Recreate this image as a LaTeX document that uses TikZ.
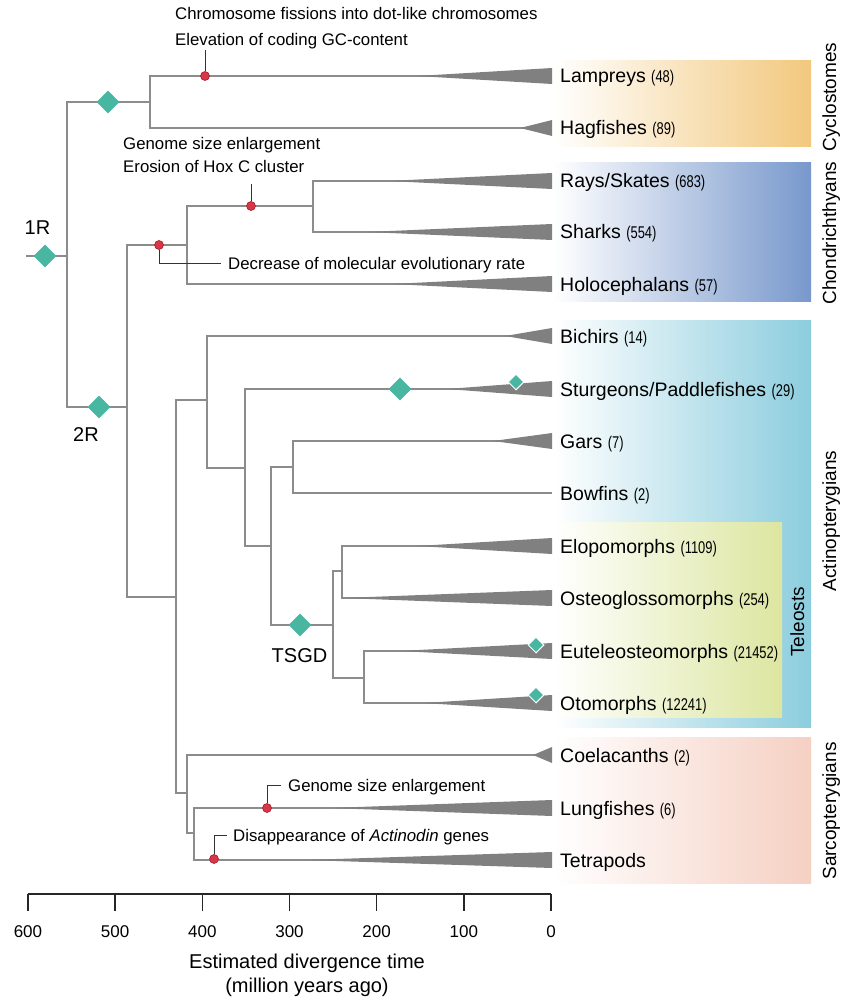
\documentclass[tikz,border=0pt]{standalone}
\usepackage{fontspec}
\usepackage{graphicx}
\setmainfont{Liberation Sans}
\usetikzlibrary{positioning}
\usetikzlibrary{shapes.geometric}

\definecolor{linegray}{RGB}{140,140,140}
\definecolor{cladegray}{RGB}{128,128,128}
\definecolor{wgdgreen}{RGB}{72,182,160}
\definecolor{eventred}{RGB}{215,55,70}
\definecolor{eventdark}{RGB}{165,30,45}
\definecolor{cycorange}{RGB}{242,200,125}
\definecolor{chonblue}{RGB}{120,152,204}
\definecolor{actcyan}{RGB}{140,205,222}
\definecolor{telgreen}{RGB}{220,230,160}
\definecolor{sarpink}{RGB}{245,208,195}
\newcommand{\cnt}[1]{{\fontsize{17}{17}\selectfont\scalebox{0.76}[1]{(#1)}}}

\begin{document}
\begin{tikzpicture}[
    x=1pt, y=-1pt,
    branch/.style={draw=linegray, line width=1.5pt},
    clade/.style={fill=cladegray},
    wgd/.style={diamond, fill=wgdgreen, minimum size=23pt, inner sep=0pt},
    wgdsmall/.style={diamond, fill=wgdgreen, draw=white, line width=1pt, minimum size=16pt, inner sep=0pt},
    event/.style={circle, fill=eventred, draw=eventdark, line width=0.6pt, minimum size=9pt, inner sep=0pt},
    lead/.style={draw=black!80, line width=0.9pt},
    note/.style={font=\fontsize{16.8}{18}\selectfont, inner sep=0pt, text height=15pt, text depth=3pt, anchor=west},
    taxon/.style={font=\fontsize{19.5}{22}\selectfont, inner sep=0pt, text height=17pt, text depth=3pt},
    lbl/.style={font=\fontsize{20}{22}\selectfont, inner sep=0pt, anchor=base},
    group/.style={font=\fontsize{19}{22}\selectfont, rotate=90, anchor=base, inner sep=0pt},
    tick/.style={font=\fontsize{17}{20}\selectfont, inner sep=0pt, anchor=base},
    axis/.style={draw=black!85, line width=1.5pt},
  ]
  \useasboundingbox (0,0) rectangle (859,1000);

  % clade boxes
  \shade[left color=white, right color=cycorange] (553,61) rectangle (811,147);
  \shade[left color=white, right color=chonblue] (553,163) rectangle (811,301);
  \shade[left color=white, right color=actcyan] (553,320) rectangle (811,727);
  \shade[left color=white, right color=telgreen] (553,522) rectangle (782,717);
  \shade[left color=white, right color=sarpink] (553,737) rectangle (811,883);

  \node[group] (gcyc) at (836,97) {Cyclostomes};
  \node[group] (gchon) at (836,233) {Chondrichthyans};
  \node[group] (gact) at (836,521) {Actinopterygians};
  \node[group] (gtel) at (804,622) {Teleosts};
  \node[group] (gsar) at (836,811) {Sarcopterygians};

  % leaves
  \foreach \nm/\y/\a/\txt in {
      lamp/76/417/{Lampreys \cnt{48}},
      hag/128/520/{Hagfishes \cnt{89}},
      ray/181/388/{Rays/Skates \cnt{683}},
      shark/232/367/{Sharks \cnt{554}},
      holo/284/392/{Holocephalans \cnt{57}},
      bich/336/505/{Bichirs \cnt{14}},
      stur/389/447/{Sturgeons/Paddlefishes \cnt{29}},
      gar/441/493/{Gars \cnt{7}},
      bow/493/552/{Bowfins \cnt{2}},
      elo/546/417/{Elopomorphs \cnt{1109}},
      ost/598/343/{Osteoglossomorphs \cnt{254}},
      eut/651/400/{Euteleosteomorphs \cnt{21452}},
      oto/703/423/{Otomorphs \cnt{12241}},
      coel/755/533/{Coelacanths \cnt{2}},
      lung/808/330/{Lungfishes \cnt{6}},
      tet/860/305/{Tetrapods}} {
    \coordinate (\nm) at (552,\y);
    \coordinate (\nm-a) at (\a,\y);
    \node[taxon, right=8pt of \nm] (\nm-t) {\txt};
  }

  % internal nodes
  \coordinate (root) at (26,256);
  \coordinate (n1) at (67,256);
  \coordinate (cyc) at (150,102);
  \coordinate (gna) at (127,407);
  \coordinate (chon) at (187,245);
  \coordinate (ela) at (313,206);
  \coordinate (oste) at (176,597);
  \coordinate (acti) at (207,400);
  \coordinate (actp) at (245,468);
  \coordinate (neop) at (271,546);
  \coordinate (holst) at (293,467);
  \coordinate (tele) at (333,625);
  \coordinate (elop) at (342,571);
  \coordinate (clup) at (364,678);
  \coordinate (sarc) at (187,793);
  \coordinate (rhip) at (194,833);

  \draw[branch] (root) -- (n1);
  \foreach \p/\c in {n1/cyc, n1/gna, cyc/lamp, cyc/hag, gna/chon, gna/oste,
      chon/ela, chon/holo, ela/ray, ela/shark, oste/acti, oste/sarc,
      acti/bich, acti/actp, actp/stur, actp/neop, neop/holst, neop/tele,
      holst/gar, holst/bow, tele/elop, tele/clup, elop/elo, elop/ost,
      clup/eut, clup/oto, sarc/coel, sarc/rhip, rhip/lung, rhip/tet}
    \draw[branch] (\p) |- (\c);

  % collapsed clades
  \foreach \nm in {lamp, hag, ray, shark, holo, bich, stur, gar, elo, ost,
      eut, oto, coel, lung, tet}
    \fill[clade] (\nm-a) -- ([yshift=8pt]\nm) -- ([yshift=-8pt]\nm) -- cycle;

  % genome duplications
  \node[wgd] (r1) at (45,256) {};
  \node[wgd] (dcyc) at (108,102) {};
  \node[wgd] (r2) at (99,407) {};
  \node[wgd] (dstur) at (400,389) {};
  \node[wgd] (tsgd) at (300,625) {};
  \node[wgdsmall] (dstur2) at (516,382) {};
  \node[wgdsmall] (deut) at (536,645) {};
  \node[wgdsmall] (doto) at (536,695) {};
  \node[lbl] (r1-l) at (37.5,234) {1R};
  \node[lbl] (r2-l) at (86,441) {2R};
  \node[lbl] (tsgd-l) at (299.5,662) {TSGD};

  % genomic events
  \node[event] (e1) at (205,76) {};
  \node[event] (e2) at (251,206) {};
  \node[event] (e3) at (159,245) {};
  \node[event] (e4) at (267,808) {};
  \node[event] (e5) at (214,859) {};

  \node[note] (nchr) at (175,14) {Chromosome fissions into dot-like chromosomes};
  \node[note] (nelev) at (175,40) {Elevation of coding GC-content};
  \node[note] (ngen) at (123,144) {Genome size enlargement};
  \node[note] (nhox) at (123,167) {Erosion of Hox C cluster};
  \node[note] (ndec) at (228,263) {Decrease of molecular evolutionary rate};
  \node[note] (ngen2) at (288,785) {Genome size enlargement};
  \node[note] (ndis) at (233,835) {Disappearance of \textit{Actinodin} genes};

  \draw[lead] (e1.north) -- ++(0,-21);
  \draw[lead] (e2.north) -- ++(0,-17);
  \draw[lead] (e3.south) |- ([xshift=-7pt]ndec.west);
  \draw[lead] (e4.north) |- ([xshift=-7pt]ngen2.west);
  \draw[lead] (e5.north) |- ([xshift=-6pt]ndis.west);

  % time axis
  \draw[axis] (28,894) -- (551,894);
  \foreach \t in {0,100,...,600} {
    \draw[axis] ({551-0.8717*\t},894) -- ++(0,17);
    \node[tick] (tk\t) at ({551-0.8717*\t},937) {\t};
  }
  \node[lbl] (ttl) at (307,968) {Estimated divergence time};
  \node[lbl] (ttl2) at (307,992) {(million years ago)};
\end{tikzpicture}
\end{document}
